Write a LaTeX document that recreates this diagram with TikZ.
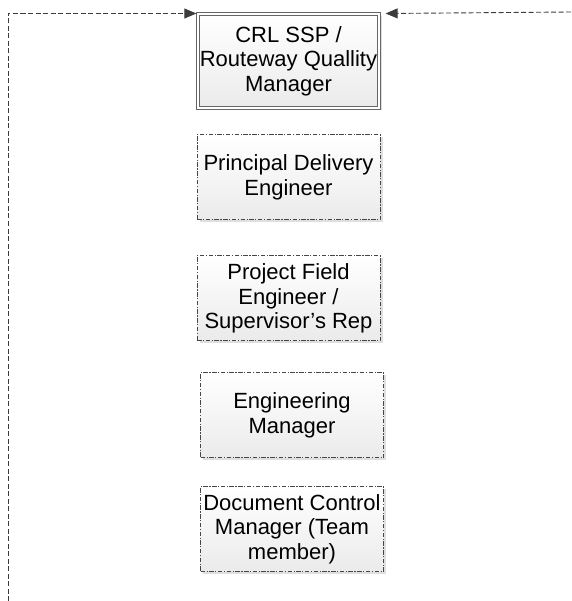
\documentclass[tikz,border=0pt]{standalone}
\usepackage{fontspec}
\setmainfont{Liberation Sans}
\usepackage{xcolor}
\usepackage{tikz}
\usetikzlibrary{positioning,shadows,arrows.meta}
\definecolor{edgegrey}{RGB}{70,70,70}
\definecolor{linkgrey}{RGB}{60,60,60}

\begin{document}
\begin{tikzpicture}[
  role/.style={draw=edgegrey,line width=0.9pt,
    dash pattern=on 4.5pt off 1.5pt on 1.2pt off 1.5pt,
    top color=white,bottom color=gray!16,
    drop shadow={shadow xshift=2.5pt,shadow yshift=-2.5pt,opacity=.25,fill=gray},
    minimum width=183pt,minimum height=85pt,align=center,inner sep=2pt,
    font=\fontsize{22}{24.5}\selectfont},
  lead/.style={role,solid,draw=gray!80!black,double=white,double distance=2.5pt,
    line width=1pt,minimum width=179pt,minimum height=94pt},
  link/.style={draw=linkgrey,line width=0.9pt,dash pattern=on 5pt off 2.5pt,
    -{Triangle[length=12pt,width=10pt]}}]
\useasboundingbox (0pt,0pt) rectangle (571pt,-601pt);

\node[lead] (crl) at (288.5pt,-61pt) {CRL SSP /\\Routeway Quallity\\Manager};
\node[role,below=26pt of crl] (pde) {Principal Delivery\\Engineer};
\node[role,below=35pt of pde] (pfe) {Project Field\\Engineer /\\Supervisor’s Rep};
\node[role,below=31pt of pfe,xshift=3.5pt] (eng) {Engineering\\Manager};
\node[role,below=28pt of eng] (dcm) {Document Control\\Manager (Team\\member)};

% feedback loops into the quality manager
\coordinate (lft) at (8pt,-601pt);
\coordinate (rgt) at (571pt,-12pt);
\draw[link] (lft) |- ([xshift=-1pt]crl.north west);
\draw[link] (rgt) -- ([xshift=6pt]crl.north east);
\end{tikzpicture}
\end{document}
